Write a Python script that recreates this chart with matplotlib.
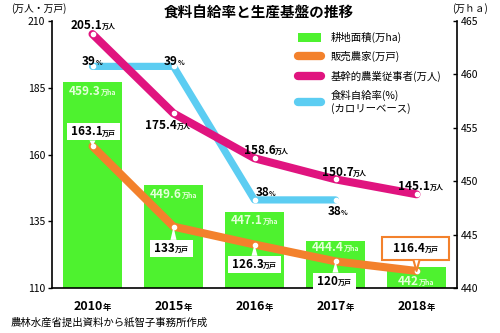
import numpy as np
import matplotlib.pyplot as plt
import matplotlib.patches as mpatches
from matplotlib.lines import Line2D
from matplotlib.transforms import Bbox, IdentityTransform

plt.rcParams['font.family'] = ['Noto Sans CJK JP', 'DejaVu Sans']

# data
years = ['2010', '2015', '2016', '2017', '2018']
farmland = [459.3, 449.6, 447.1, 444.4, 442]          # 万ha (right axis)
sales_farms = [163.1, 133, 126.3, 120, 116.4]          # 万戸
core_workers = [205.1, 175.4, 158.6, 150.7, 145.1]     # 万人
self_sufficiency = [39, 39, 38, 38]                    # %, 2010-2017

farmland_lbl = ['459.3', '449.6', '447.1', '444.4', '442']
sales_lbl = ['163.1', '133', '126.3', '120', '116.4']
core_lbl = ['205.1', '175.4', '158.6', '150.7', '145.1']
ss_lbl = ['39', '39', '38', '38']

GREEN = '#4ef22f'
ORANGE = '#f3812c'
MAGENTA = '#e0147f'
CYAN = '#5ccdf2'

fig = plt.figure(figsize=(5, 3.33), dpi=100)
ax = fig.add_axes([0.104, 0.135, 0.81, 0.802])
ax2 = ax.twinx()
ax3 = ax.twinx()
ax2.set_zorder(0)
ax3.set_zorder(1)
ax.set_zorder(2)
ax.patch.set_visible(False)
ax3.patch.set_visible(False)

x = np.arange(len(years))

# bars: farmland on the right axis
ax2.bar(x, farmland, width=0.72, color=GREEN, zorder=1)

# lines
ax.plot(x, sales_farms, color=ORANGE, lw=5.8, solid_capstyle='round', solid_joinstyle='round',
        marker='o', ms=3, mfc='white', mec='white', zorder=3)
ax.plot(x, core_workers, color=MAGENTA, lw=5.8, solid_capstyle='round', solid_joinstyle='round',
        marker='o', ms=3, mfc='white', mec='white', zorder=3)
ax3.plot(x[:len(self_sufficiency)], self_sufficiency, color=CYAN, lw=5.2, solid_capstyle='round',
         solid_joinstyle='round', marker='o', ms=3, mfc='white', mec='white', zorder=3)

ax.set_xlim(-0.5, 4.5)
ax.set_ylim(110, 210)
ax.set_yticks([110, 135, 160, 185, 210])
ax2.set_ylim(440, 465)
ax2.set_yticks([440, 445, 450, 455, 460, 465])
ax3.set_ylim(37.34, 39.34)
ax3.set_axis_off()

for s in ['top', 'right']:
    ax.spines[s].set_visible(False)
for s in ['top', 'left', 'bottom']:
    ax2.spines[s].set_visible(False)
ax.spines['left'].set_linewidth(1.2)
ax.spines['bottom'].set_linewidth(1.2)
ax2.spines['right'].set_linewidth(1.2)
ax.tick_params(axis='y', direction='out', length=3, width=1, labelsize=7.5, pad=2)
ax.tick_params(axis='x', length=0)
ax.set_xticks(x)
ax.set_xticklabels([])
ax2.tick_params(axis='y', direction='in', length=3, width=1, labelsize=7.5, pad=3)

renderer = fig.canvas.get_renderer()


def split_label(xy, num, unit, dx, dy, size, usize, color, weight='bold',
                xycoords='data', box_ec=False, pad=(4, 3), pointer=False):
    base = dy - 0.36 * size
    t1 = ax.annotate(num, xy, xycoords=xycoords, xytext=(0, base), textcoords='offset points',
                     ha='left', va='baseline', fontsize=size, color=color, fontweight=weight,
                     zorder=7, annotation_clip=False)
    t2 = ax.annotate(unit, xy, xycoords=xycoords, xytext=(0, base), textcoords='offset points',
                     ha='left', va='baseline', fontsize=usize, color=color, fontweight=weight,
                     zorder=7, annotation_clip=False)
    w1 = t1.get_window_extent(renderer).width * 72 / fig.dpi
    w2 = t2.get_window_extent(renderer).width * 72 / fig.dpi
    left = dx - (w1 + w2) / 2
    t1.xyann = (left, base)
    t2.xyann = (left + w1, base)
    if box_ec is not False:
        bb = Bbox.union([t1.get_window_extent(renderer), t2.get_window_extent(renderer)])
        ec = box_ec if box_ec else 'none'
        rect = mpatches.Rectangle((bb.x0 - pad[0], bb.y0 - pad[1] + 1),
                                  bb.width + 2 * pad[0], bb.height + 2 * pad[1] - 2,
                                  transform=IdentityTransform(), facecolor='white', edgecolor=ec,
                                  lw=1.5, zorder=5, clip_on=False)
        ax.add_artist(rect)
        if pointer:
            px, py = ax.transData.transform(xy)
            edge = rect.get_y() if py < rect.get_y() else rect.get_y() + rect.get_height()
            tri = mpatches.Polygon([(px - 3, edge), (px + 3, edge), (px, py)], closed=True,
                                   transform=IdentityTransform(), facecolor='white', edgecolor='none',
                                   zorder=6, clip_on=False)
            ax.add_artist(tri)
            if box_ec:
                side = Line2D([px - 3, px, px + 3], [edge, py, edge], transform=IdentityTransform(),
                              color=box_ec, lw=1.5, zorder=6, clip_on=False)
                ax.add_artist(side)
    return t1, t2


PX = 0.72  # pixel -> point

# magenta labels
core_off = [(1, 9), (-6, -11), (12, 9), (9, 8), (4, 9)]
for i, (dx, dy) in enumerate(core_off):
    split_label((x[i], core_workers[i]), core_lbl[i], '万人', dx * PX, dy * PX, 8.5, 5, 'black')

# cyan labels
ss_off = [(0, 6), (1, 6), (11, 8), (2, -11)]
for i, (dx, dy) in enumerate(ss_off):
    split_label((x[i], self_sufficiency[i]), ss_lbl[i], '%', dx * PX, dy * PX, 8.5, 5,
                'black', xycoords=ax3.transData)

# farmland labels inside bars
bar_off = [-9, -8, -8, -6, -14]
for i, dy in enumerate(bar_off):
    split_label((x[i], farmland[i]), farmland_lbl[i], '万ha', 0, dy * PX, 8.5, 5,
                '#e4ffd8', xycoords=ax2.transData)

# orange labels in white boxes
sales_off = [(1, 15), (-2, -21), (0, -19), (-1, -19), (-1, 23)]
for i, (dx, dy) in enumerate(sales_off):
    last = i == len(sales_off) - 1
    split_label((x[i], sales_farms[i]), sales_lbl[i], '万戸', dx * PX, dy * PX, 8.5, 5,
                'black', box_ec=ORANGE if last else None,
                pad=(11, 6) if last else (4, 3), pointer=True)

# year labels
for i in range(len(years)):
    split_label((x[i], 0), years[i], '年', 0, -12.5, 9, 6, 'black',
                xycoords=('data', 'axes fraction'))

# legend
handles = [mpatches.Patch(facecolor=GREEN, edgecolor='none'),
           Line2D([0], [0], color=ORANGE, lw=6, solid_capstyle='round'),
           Line2D([0], [0], color=MAGENTA, lw=6, solid_capstyle='round'),
           Line2D([0], [0], color=CYAN, lw=6, solid_capstyle='round')]
labels = ['耕地面積(万ha)', '販売農家(万戸)', '基幹的農業従事者(万人)', '食料自給率(%)\n(カロリーベース)']
fig.legend(handles, labels, loc='upper left', bbox_to_anchor=(0.585, 0.92), frameon=False,
           fontsize=7.5, handlelength=2.2, handleheight=0.9, handletextpad=1.0,
           labelspacing=0.8, borderpad=0)

# titles and notes
fig.text(0.518, 0.963, '食料自給率と生産基盤の推移', ha='center', va='center', fontsize=10.5,
         fontweight='bold')
fig.text(0.022, 0.975, '(万人・万戸)', ha='left', va='center', fontsize=7)
fig.text(0.905, 0.975, '(万ｈａ)', ha='left', va='center', fontsize=7)
fig.text(0.022, 0.03, '農林水産省提出資料から紙智子事務所作成', ha='left', va='center', fontsize=7.5)

fig.savefig('out.png', dpi=100)
